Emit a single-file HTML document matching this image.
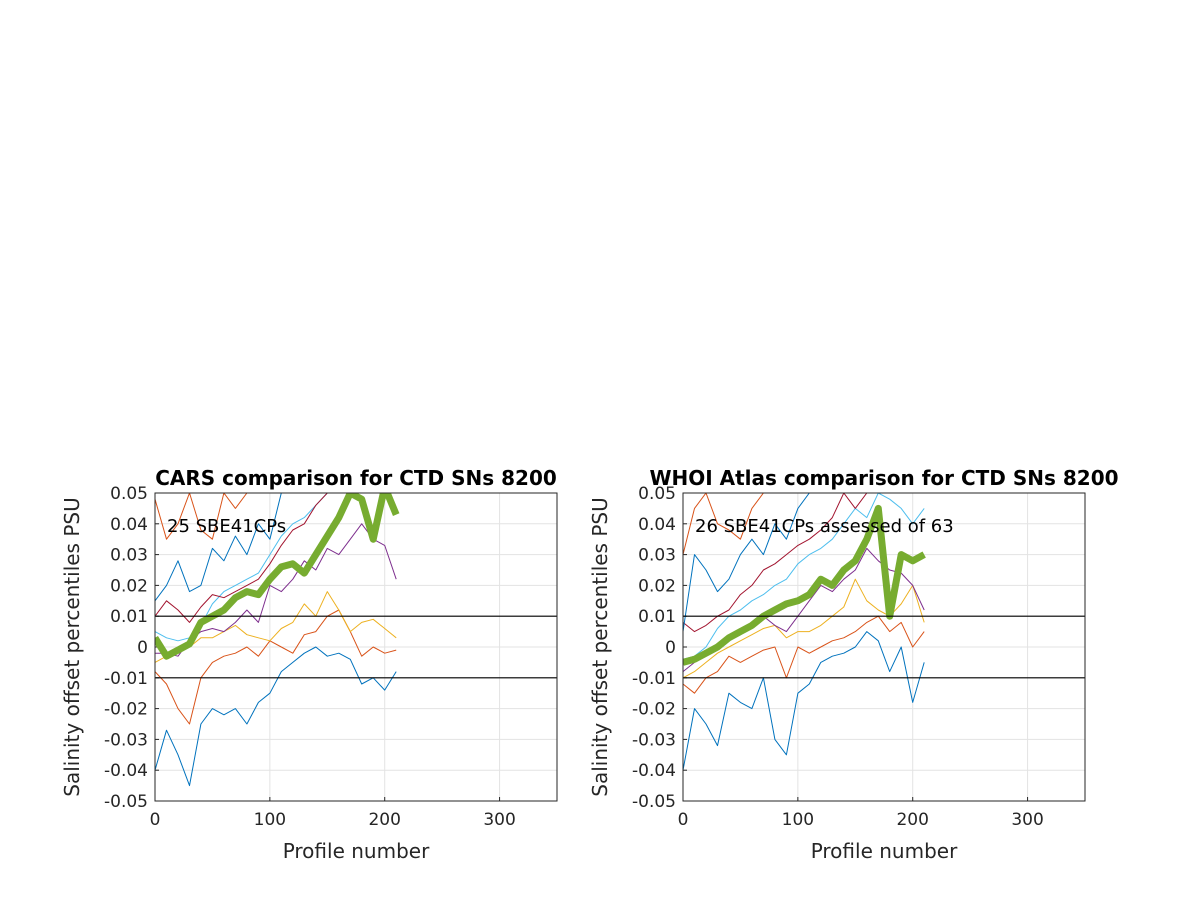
<!DOCTYPE html>
<html><head><meta charset="utf-8"><style>body{margin:0;background:#fff}svg text{font-family:"DejaVu Sans","Liberation Sans",sans-serif}</style></head>
<body>
<svg id="fig" width="1200" height="900" xmlns="http://www.w3.org/2000/svg"></svg>
<script>
const xTicks=[0,100,200,300];
const yTicks=[-0.05,-0.04,-0.03,-0.02,-0.01,0,0.01,0.02,0.03,0.04,0.05];
const yTickLabels=["-0.05","-0.04","-0.03","-0.02","-0.01","0","0.01","0.02","0.03","0.04","0.05"];
const profiles=[0,10,20,30,40,50,60,70,80,90,100,110,120,130,140,150,160,170,180,190,200,210];
// values in 0.001 PSU
const carsBlueLow=[-40,-27,-35,-45,-25,-20,-22,-20,-25,-18,-15,-8,-5,-2,0,-3,-2,-4,-12,-10,-14,-8];
const carsOrangeLow=[-8,-12,-20,-25,-10,-5,-3,-2,0,-3,2,0,-2,4,5,10,12,5,-3,0,-2,-1];
const carsYellow=[-5,-3,-1,0,3,3,5,7,4,3,2,6,8,14,10,18,12,5,8,9,6,3];
const carsPurple=[-2,-2,-3,2,5,6,5,8,12,8,20,18,22,28,25,32,30,35,40,35,33,22];
const carsGreen=[3,-3,-1,1,8,10,12,16,18,17,22,26,27,24,30,36,42,50,48,35,52,43];
const carsCyan=[5,3,2,3,7,14,18,20,22,24,30,36,40,42,46,50,55,58,60,60,60,60];
const carsBurgundy=[10,15,12,8,13,17,16,18,20,22,27,33,38,40,46,50,55,58,60,60,60,60];
const carsBlueHigh=[15,20,28,18,20,32,28,36,30,40,35,50,55,58,60,60,60,60,60,60,60,60];
const carsOrangeHigh=[48,35,40,50,38,35,50,45,50,55,58,60,60,60,60,60,60,60,60,60,60,60];
const whoiBlueLow=[-40,-20,-25,-32,-15,-18,-20,-10,-30,-35,-15,-12,-5,-3,-2,0,5,2,-8,0,-18,-5];
const whoiOrangeLow=[-12,-15,-10,-8,-3,-5,-3,-1,0,-10,0,-2,0,2,3,5,8,10,5,8,0,5];
const whoiYellow=[-10,-8,-5,-2,0,2,4,6,7,3,5,5,7,10,13,22,15,12,10,14,20,8];
const whoiPurple=[-8,-5,-2,0,3,5,8,10,7,5,10,15,20,18,22,25,32,28,25,24,20,12];
const whoiGreen=[-5,-4,-2,0,3,5,7,10,12,14,15,17,22,20,25,28,35,45,10,30,28,30];
const whoiCyan=[-4,-3,0,6,10,12,15,17,20,22,27,30,32,35,40,45,42,50,48,45,40,45];
const whoiBurgundy=[8,5,7,10,12,17,20,25,27,30,33,35,38,42,50,45,50,55,58,55,52,55];
const whoiBlueHigh=[5,30,25,18,22,30,35,30,40,35,45,50,55,58,60,60,60,60,60,60,60,60];
const whoiOrangeHigh=[30,45,50,40,38,35,45,50,55,58,60,60,60,60,60,60,60,60,60,60,60,60];

const NS="http://www.w3.org/2000/svg";
const svg=document.getElementById('fig');
function mk(tag,attrs,parent){const e=document.createElementNS(NS,tag);for(const k in attrs)e.setAttribute(k,attrs[k]);(parent||svg).appendChild(e);return e;}
const colors={blue:"#0072BD",orange:"#D95319",yellow:"#EDB120",purple:"#7E2F8E",green:"#77AC30",cyan:"#4DBEEE",burg:"#A2142F"};

function panel(id,L,title,note,series){
  const T=493,B=801,R=L+402;
  const sx=v=>L+(v/350)*(R-L);
  const sy=v=>B-(v+0.05)/0.1*(B-T);
  const g=mk('g',{});
  
  
  mk('rect',{x:L,y:T,width:R-L,height:B-T,fill:'#fff'},g);
  const cp=mk('clipPath',{id:id+'-clip'},g);mk('rect',{x:L,y:T,width:R-L,height:B-T},cp);
  yTicks.forEach((t,i)=>{
    const gl=mk('line',{x1:L,x2:R,y1:sy(t),y2:sy(t),stroke:'#e3e3e3','stroke-width':1},g);
    
    
    mk('line',{x1:L,x2:L+4,y1:sy(t),y2:sy(t),stroke:'#262626'},g);
    const tx=mk('text',{x:L-7,y:sy(t)+6,'text-anchor':'end','font-size':17,fill:'#262626'},g);
    tx.textContent=yTickLabels[i];
    
    
  });
  xTicks.forEach(t=>{
    if(t>0){const gl=mk('line',{x1:sx(t),x2:sx(t),y1:T,y2:B,stroke:'#e3e3e3'},g);
    
    }
    mk('line',{x1:sx(t),x2:sx(t),y1:B,y2:B-4,stroke:'#262626'},g);
    const tx=mk('text',{x:sx(t),y:B+24,'text-anchor':'middle','font-size':17,fill:'#262626'},g);
    tx.textContent=t;
    
    
  });
  const lg=mk('g',{'clip-path':'url(#'+id+'-clip)'},g);
  series.forEach(s=>{
    const d=profiles.map((p,i)=>(i?'L':'M')+sx(p).toFixed(1)+','+sy(s.v[i]/1000).toFixed(1)).join('');
    const pth=mk('path',{d:d,fill:'none',stroke:s.c,'stroke-width':s.w,'stroke-linejoin':'round'},lg);
    
    
  });
  [0.01,-0.01].forEach(v=>{
    const l=mk('line',{x1:L,x2:R,y1:sy(v),y2:sy(v),stroke:'#000','stroke-width':1.2},g);
    
    
  });
  mk('rect',{x:L,y:T,width:R-L,height:B-T,fill:'none',stroke:'#262626','stroke-width':1},g);
  const nt=mk('text',{x:L+12,y:532,'font-size':18,fill:'#000'},g);nt.textContent=note;
  
  
  const tt=mk('text',{x:(L+R)/2,y:485,'text-anchor':'middle','font-size':20,'font-weight':'bold',fill:'#000'},g);tt.textContent=title;
  
  
  const xl=mk('text',{x:(L+R)/2,y:858,'text-anchor':'middle','font-size':20,fill:'#262626'},g);xl.textContent='Profile number';
  
  
  const yl=mk('text',{x:0,y:0,'text-anchor':'middle','font-size':20,fill:'#262626',transform:'translate('+(L-76)+','+((T+B)/2)+') rotate(-90)'},g);yl.textContent='Salinity offset percentiles PSU';
  
  
}
panel('cars',155,'CARS comparison for CTD SNs 8200','25 SBE41CPs',[
  {n:'p-blue-low',c:colors.blue,w:1,v:carsBlueLow},{n:'p-orange-low',c:colors.orange,w:1,v:carsOrangeLow},
  {n:'p-yellow',c:colors.yellow,w:1,v:carsYellow},{n:'p-purple',c:colors.purple,w:1,v:carsPurple},
  {n:'p-cyan',c:colors.cyan,w:1,v:carsCyan},{n:'p-burgundy',c:colors.burg,w:1,v:carsBurgundy},
  {n:'p-blue-high',c:colors.blue,w:1,v:carsBlueHigh},{n:'p-orange-high',c:colors.orange,w:1,v:carsOrangeHigh},
  {n:'median-green',c:colors.green,w:7,v:carsGreen}]);
panel('whoi',683,'WHOI Atlas comparison for CTD SNs 8200','26 SBE41CPs assessed of 63',[
  {n:'p-blue-low',c:colors.blue,w:1,v:whoiBlueLow},{n:'p-orange-low',c:colors.orange,w:1,v:whoiOrangeLow},
  {n:'p-yellow',c:colors.yellow,w:1,v:whoiYellow},{n:'p-purple',c:colors.purple,w:1,v:whoiPurple},
  {n:'p-cyan',c:colors.cyan,w:1,v:whoiCyan},{n:'p-burgundy',c:colors.burg,w:1,v:whoiBurgundy},
  {n:'p-blue-high',c:colors.blue,w:1,v:whoiBlueHigh},{n:'p-orange-high',c:colors.orange,w:1,v:whoiOrangeHigh},
  {n:'median-green',c:colors.green,w:7,v:whoiGreen}]);
</script>
</body></html>
